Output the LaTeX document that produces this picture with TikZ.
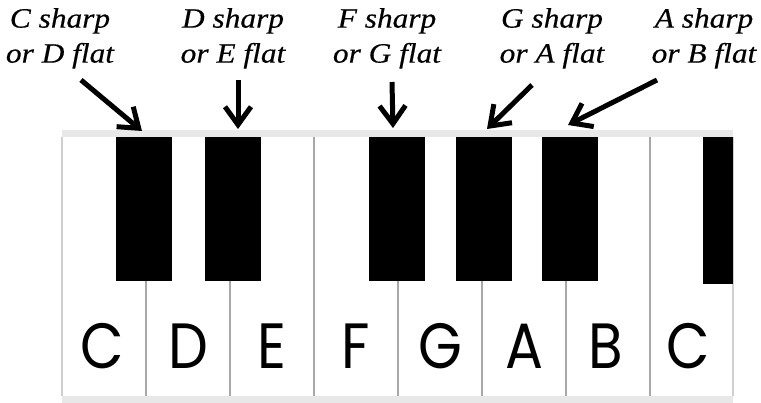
\documentclass[tikz,border=0pt]{standalone}
\usepackage{fontspec}
\usetikzlibrary{arrows.meta}
\newfontfamily\keyfont[FakeStretch=0.88]{Poppins}
\newfontfamily\labfont[FakeStretch=1.12,FakeBold=0.4]{Liberation Serif}
\definecolor{barcol}{HTML}{E8E8E8}
\definecolor{divcol}{HTML}{A8A8A8}
\definecolor{edgecol}{HTML}{CFCFCF}
\begin{document}
\begin{tikzpicture}[x=1pt,y=-1pt,
  bkey/.style={fill=black,draw=none,inner sep=0pt,outer sep=0pt,minimum width=56pt,minimum height=144pt,anchor=north west},
  divider/.style={draw=divcol,line width=2.5pt},
  edgeline/.style={draw=edgecol,line width=1.5pt},
  letter/.style={font=\keyfont\fontsize{64}{64}\selectfont,inner sep=0pt,anchor=base},
  lab/.style={font=\labfont\itshape\fontsize{28}{35}\selectfont,align=center,inner sep=0pt,anchor=north},
  arr/.style={line width=5pt,-{Straight Barb[length=18pt,width=26pt]}}]
\useasboundingbox (0,0) rectangle (761,403);
\fill[white] (0,0) rectangle (761,403);
% bars
\fill[barcol] (62,130) rectangle (733,137);
\fill[barcol] (62,396) rectangle (733,403);
% white key dividers
\foreach \x in {146,230,314,398,482,566,650} \draw[divider] (\x,137) -- (\x,396);
\draw[edgeline] (62,137) -- (62,396);
\draw[edgeline] (733,137) -- (733,396);
% black keys
\node[bkey] (k1) at (116,137) {};
\node[bkey] (k2) at (205,137) {};
\node[bkey] (k3) at (369,137) {};
\node[bkey] (k4) at (456,137) {};
\node[bkey] (k5) at (542,137) {};
\node[bkey,minimum width=30pt,minimum height=147pt] (k6) at (703,137) {};
% letters
\node[letter] (w1) at (102,369) {C};
\node[letter] (w2) at (188,369) {D};
\node[letter] (w3) at (272,369) {E};
\node[letter] (w4) at (356,369) {F};
\node[letter] (w5) at (440,369) {G};
\node[letter] (w6) at (524,369) {A};
\node[letter] (w7) at (606,369) {B};
\node[letter] (w8) at (688,369) {C};
% labels
\node[lab] (t1) at (60,8) {C sharp\\or D flat};
\node[lab] (t2) at (233,8) {D sharp\\or E flat};
\node[lab] (t3) at (387,8) {F sharp\\or G flat};
\node[lab] (t4) at (552,8) {G sharp\\or A flat};
\node[lab] (t5) at (704,8) {A sharp\\or B flat};
% arrows
\coordinate (s1) at (81,80);
\coordinate (s2) at (238,80);
\coordinate (s3) at (392,82);
\coordinate (s4) at (532,85);
\coordinate (s5) at (657,80);
\coordinate (e1) at ([xshift=-2pt,yshift=6pt]k1.north);
\coordinate (e2) at ([xshift=5pt,yshift=8pt]k2.north);
\coordinate (e3) at ([xshift=-4pt,yshift=9pt]k3.north);
\coordinate (e4) at ([xshift=3pt,yshift=8pt]k4.north);
\coordinate (e5) at ([xshift=-2pt,yshift=12pt]k5.north);
\draw[arr] (s1) -- (e1);
\draw[arr] (s2) -- (e2);
\draw[arr] (s3) -- (e3);
\draw[arr] (s4) -- (e4);
\draw[arr] (s5) -- (e5);
\end{tikzpicture}
\end{document}
